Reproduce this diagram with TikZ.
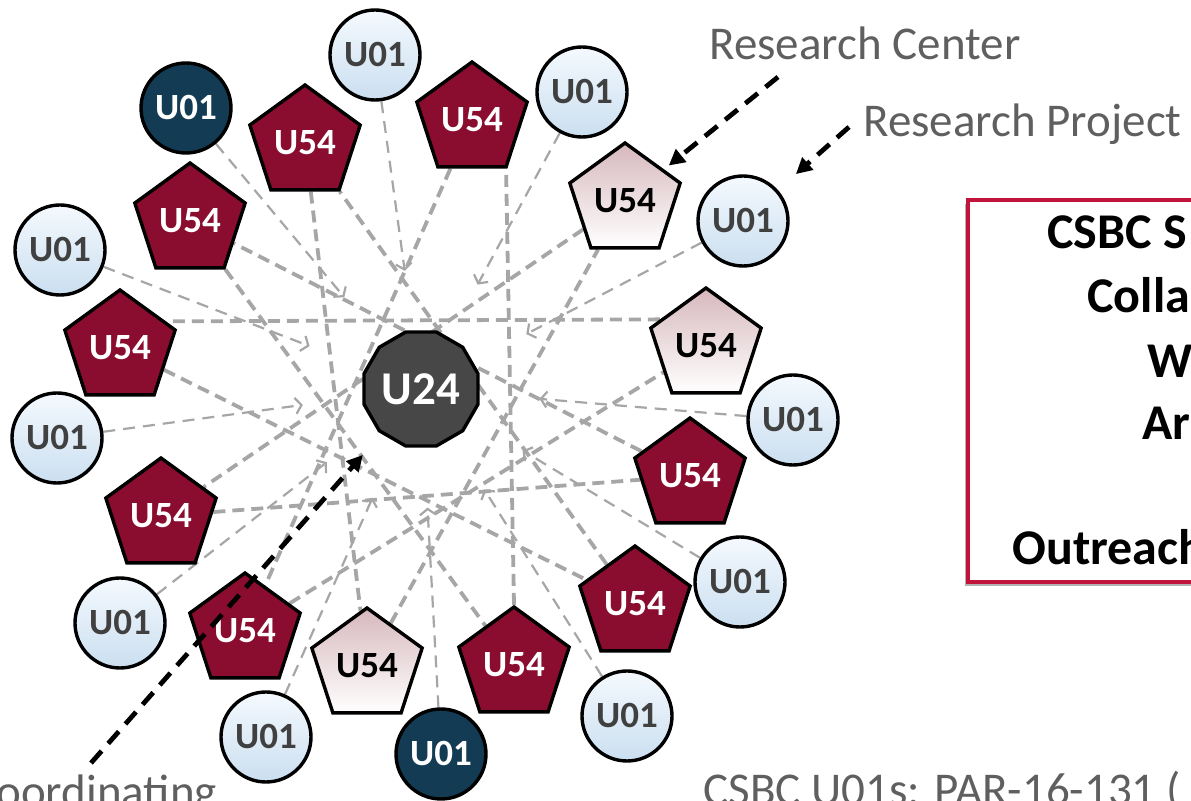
\documentclass[tikz,border=0pt]{standalone}
\usepackage{fontspec}
\setmainfont{Carlito}
\usetikzlibrary{shapes.geometric,arrows.meta,shadows,backgrounds}
\definecolor{maroon}{HTML}{8A0C2F}
\definecolor{navy}{HTML}{133B54}
\definecolor{hubgray}{HTML}{474747}
\definecolor{linkgray}{HTML}{A6A6A6}
\definecolor{notegray}{HTML}{5F5F5F}
\definecolor{labelgray}{HTML}{404040}
\definecolor{boxred}{HTML}{C0143C}
\definecolor{blueTop}{HTML}{F4F9FE}
\definecolor{blueBot}{HTML}{CBDFF0}
\definecolor{pinkTop}{HTML}{D6B8BD}
\begin{document}
\begin{tikzpicture}[x=0.5pt,y=-0.5pt,
  rp/.style={circle, draw=black, line width=1.7pt, minimum size=45pt, inner sep=0pt, font=\fontsize{18.5}{18.5}\selectfont\bfseries},
  rplight/.style={rp, top color=blueTop, bottom color=blueBot, text=labelgray},
  rpdark/.style={rp, fill=navy, text=white},
  rc/.style={regular polygon, regular polygon sides=5, draw=black, line width=1.7pt, minimum size=58pt, inner sep=0pt, font=\fontsize{18.5}{18.5}\selectfont\bfseries},
  rcred/.style={rc, fill=maroon, text=white},
  rclight/.style={rc, top color=pinkTop, bottom color=white, text=black},
  hub/.style={regular polygon, regular polygon sides=12, draw=black, line width=1.7pt, minimum size=59pt, inner sep=0pt, fill=hubgray, text=white, font=\fontsize{23.5}{23.5}\selectfont\bfseries},
  rplink/.style={draw=linkgray, line width=1.1pt, dash pattern=on 6pt off 4pt, shorten >=30pt, -{Straight Barb[length=3pt,width=8pt]}},
  rclink/.style={draw=linkgray, line width=1.9pt, dash pattern=on 6pt off 3.5pt},
  note/.style={text=notegray, inner sep=0pt, anchor=base west, font=\fontsize{23.5}{28}\selectfont},
  boxframe/.style={draw=boxred, line width=2pt, fill=white, drop shadow={shadow xshift=-1.5pt, shadow yshift=-2pt, opacity=0.3, fill=black}},
  boxtext/.style={inner sep=0pt, anchor=base west, font=\fontsize{25}{30}\selectfont\bfseries},
  pointer/.style={draw=black, line width=2.4pt, dash pattern=on 8pt off 5pt, -{Triangle[length=8pt,width=8pt]}}
]
\useasboundingbox (0,0) rectangle (1191,801);
\node [hub] (coord) at (421,389) {U24};
\node [rcred] (ctr1) at (472,120) {U54};
\node [rcred] (ctr2) at (305,143) {U54};
\node [rcred] (ctr3) at (190,221) {U54};
\node [rcred] (ctr4) at (120,348) {U54};
\node [rcred] (ctr5) at (161,516) {U54};
\node [rcred] (ctr6) at (245,631) {U54};
\node [rclight] (ctr7) at (367,666) {U54};
\node [rcred] (ctr8) at (514,665) {U54};
\node [rcred] (ctr9) at (635,604) {U54};
\node [rcred] (ctr10) at (690,476) {U54};
\node [rclight] (ctr11) at (706,346) {U54};
\node [rclight] (ctr12) at (625,201) {U54};
\node [rplight] (prj1) at (375,55) {U01};
\node [rpdark] (prj2) at (186,108) {U01};
\node [rplight] (prj3) at (60,250) {U01};
\node [rplight] (prj4) at (57,438) {U01};
\node [rplight] (prj5) at (120,623) {U01};
\node [rplight] (prj6) at (266,737) {U01};
\node [rpdark] (prj7) at (441,754) {U01};
\node [rplight] (prj8) at (627,716) {U01};
\node [rplight] (prj9) at (740,582) {U01};
\node [rplight] (prj10) at (793,420) {U01};
\node [rplight] (prj11) at (743,221) {U01};
\node [rplight] (prj12) at (582,92) {U01};
\begin{scope}[on background layer]
\draw [rclink] (ctr1) -- (ctr6);
\draw [rclink] (ctr2) -- (ctr7);
\draw [rclink] (ctr3) -- (ctr8);
\draw [rclink] (ctr4) -- (ctr9);
\draw [rclink] (ctr5) -- (ctr10);
\draw [rclink] (ctr6) -- (ctr11);
\draw [rclink] (ctr7) -- (ctr12);
\draw [rclink] (ctr8.north) -- (ctr1.-55);
\draw [rclink] (ctr9) -- (ctr2);
\draw [rclink] (ctr10) -- (ctr3);
\draw [rclink] (ctr11.150) -- (ctr4.30);
\draw [rclink] (ctr12) -- (ctr5);
\draw [rplink] (prj1) -- (coord);
\draw [rplink] (prj2) -- (coord);
\draw [rplink] (prj3) -- (coord);
\draw [rplink] (prj4) -- (coord);
\draw [rplink] (prj5) -- (coord);
\draw [rplink] (prj6) -- (coord);
\draw [rplink] (prj7) -- (coord);
\draw [rplink] (prj8) -- (coord);
\draw [rplink] (prj9) -- (coord);
\draw [rplink] (prj10) -- (coord);
\draw [rplink] (prj11) -- (coord);
\draw [rplink] (prj12) -- (coord);
\end{scope}
\node [note] (ctrnote) at (709,60) {Research Center};
\node [note] (prjnote) at (863,137) {Research Project};
\node [note] (coordnote) at (-29,808) {Coordinating};
\node [note] (u01note) at (703,806) {CSBC U01s: PAR-16-131 (};
\coordinate (ctrtail) at (778,77);
\coordinate (prjtail) at (849,127);
\coordinate (coordtail) at (91,763);
\draw [pointer, shorten >=3pt] (ctrtail) -- (ctr12);
\draw [pointer, shorten >=12pt] (prjtail) -- (prj11);
\draw [pointer, shorten >=14pt] (coordtail) -- (coord);
\draw [boxframe] (968,200) rectangle (1330,582);
\node [boxtext] (line1) at (1047,249) {CSBC S};
\node [boxtext] (line2) at (1087,313) {Colla};
\node [boxtext] (line3) at (1147,378) {W};
\node [boxtext] (line4) at (1142,440) {Ar};
\node [boxtext] (line5) at (1012,565) {Outreach};
\end{tikzpicture}
\end{document}
